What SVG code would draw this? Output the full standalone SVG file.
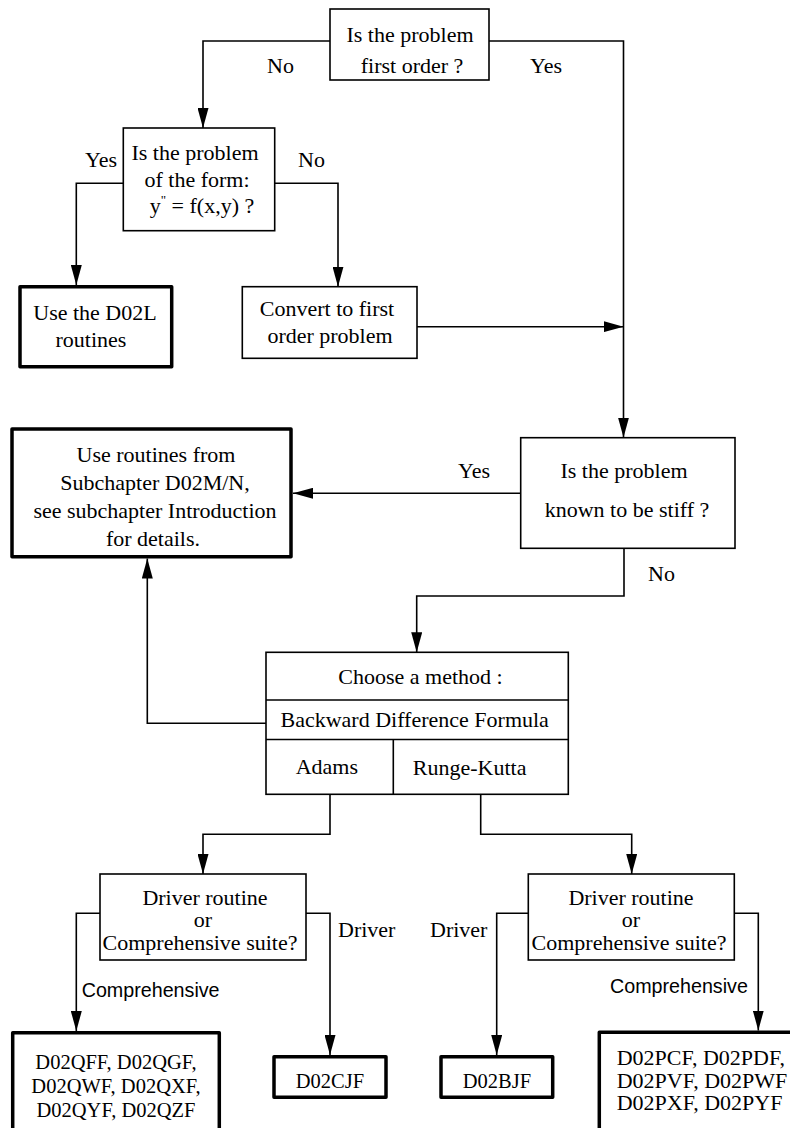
<svg xmlns="http://www.w3.org/2000/svg" width="790" height="1128" viewBox="0 0 790 1128">
<style>
text{font-family:"Liberation Serif","Times New Roman",serif;font-size:22px;fill:#000}
.c{text-anchor:middle}
.sans{font-family:"Liberation Sans",Arial,sans-serif;font-size:19.7px}
.small{font-size:20.5px}
.box{fill:#fff;stroke:#000;stroke-width:1.6}
.bold{fill:#fff;stroke:#000;stroke-width:3.5;stroke-linejoin:round}
.edge{fill:none;stroke:#000;stroke-width:1.6;marker-end:url(#ah)}
.div{fill:none;stroke:#000;stroke-width:1.6}
</style>
<defs>
<marker id="ah" markerUnits="userSpaceOnUse" markerWidth="20" markerHeight="11" refX="20" refY="5.5" orient="auto">
<path d="M0,0 L20,5.5 L0,11 z" fill="#000"/>
</marker>
</defs>
<g id="connectors">
<path class="edge" d="M330,41 H203 V128"/>
<path class="edge" d="M489,41 H623.5 V437.5"/>
<path class="edge" d="M123.3,183.3 H76.3 V285"/>
<path class="edge" d="M274.7,183.3 H338 V286.7"/>
<path class="edge" d="M417,326.7 H623.5"/>
<path class="edge" d="M520.7,493.3 H293"/>
<path class="edge" d="M624,548.3 V596 H416.7 V652.3"/>
<path class="edge" d="M266,723.3 H147.3 V558.5"/>
<path class="edge" d="M330,794.3 V834.3 H203 V874"/>
<path class="edge" d="M480.7,794.3 V834.3 H631.7 V874"/>
<path class="edge" d="M100,913.3 H76.3 V1031"/>
<path class="edge" d="M306,913.3 H330 V1055"/>
<path class="edge" d="M528.3,913.3 H496.7 V1055"/>
<path class="edge" d="M734.3,913.3 H758.3 V1030.5"/>
</g>
<g id="labels">
<text x="267" y="73">No</text>
<text x="530" y="73">Yes</text>
<text x="85" y="167">Yes</text>
<text x="298" y="167">No</text>
<text x="458" y="478">Yes</text>
<text x="648" y="581">No</text>
<text x="338" y="937">Driver</text>
<text x="430" y="937">Driver</text>
<text class="sans" x="81.7" y="996.7">Comprehensive</text>
<text class="sans" x="610" y="993.3">Comprehensive</text>
</g>
<g id="n_first_order">
<rect class="box" x="330" y="9" width="159" height="71"/>
<text class="c" x="410" y="41.5">Is the problem</text>
<text class="c" x="412" y="72.5">first order ?</text>
</g>
<g id="n_form">
<rect class="box" x="123.3" y="128" width="151.4" height="102.7"/>
<text class="c" x="195" y="160">Is the problem</text>
<text class="c" x="197" y="186.7">of the form:</text>
<text class="c" x="202" y="213">y<tspan font-size="13" dy="-9">"</tspan><tspan dy="9"> = f(x,y) ?</tspan></text>
</g>
<g id="n_d02l">
<rect class="bold" x="20" y="286.7" width="151.7" height="80"/>
<text class="c" x="95" y="320">Use the D02L</text>
<text class="c" x="91" y="346.7">routines</text>
</g>
<g id="n_convert">
<rect class="box" x="242.3" y="286.7" width="174.7" height="71.6"/>
<text class="c" x="327" y="316">Convert to first</text>
<text class="c" x="330" y="343">order problem</text>
</g>
<g id="n_stiff">
<rect class="box" x="520.7" y="437.7" width="214.3" height="110.6"/>
<text class="c" x="624" y="478.3">Is the problem</text>
<text class="c" x="627" y="516.7">known to be stiff ?</text>
</g>
<g id="n_d02mn">
<rect class="bold" x="12" y="429" width="279" height="127.7"/>
<text class="c" x="156" y="461.7">Use routines from</text>
<text class="c" x="155" y="489.7">Subchapter D02M/N,</text>
<text class="c" x="155" y="517.7">see subchapter Introduction</text>
<text class="c" x="153" y="545.7">for details.</text>
</g>
<g id="n_method">
<rect class="box" x="266" y="652.3" width="302.3" height="142"/>
<path class="div" d="M266,700 H568.3" stroke-width="2.2"/>
<path class="div" d="M266,739.5 H568.3"/>
<path class="div" d="M393.3,739.5 V794.3"/>
<text class="c" x="420.5" y="684">Choose a method :</text>
<text class="c" x="414.7" y="727.3">Backward Difference Formula</text>
<text class="c" x="326.8" y="774">Adams</text>
<text class="c" x="469.7" y="775">Runge-Kutta</text>
</g>
<g id="n_driver_left">
<rect class="box" x="100" y="874" width="206" height="86"/>
<text class="c" x="205" y="905">Driver routine</text>
<text class="c" x="203" y="927">or</text>
<text class="c" x="200" y="950">Comprehensive suite?</text>
</g>
<g id="n_driver_right">
<rect class="box" x="528.3" y="874" width="206" height="86"/>
<text class="c" x="631" y="905">Driver routine</text>
<text class="c" x="631" y="927">or</text>
<text class="c" x="629" y="950">Comprehensive suite?</text>
</g>
<g id="n_d02q">
<rect class="bold" x="12.7" y="1032.7" width="206.6" height="110"/>
<text class="c small" x="116" y="1069.3">D02QFF, D02QGF,</text>
<text class="c small" x="116" y="1093.3">D02QWF, D02QXF,</text>
<text class="c small" x="116" y="1116.7">D02QYF, D02QZF</text>
</g>
<g id="n_d02cjf">
<rect class="bold" x="274" y="1056.7" width="112" height="40.6"/>
<text class="c small" x="330" y="1088">D02CJF</text>
</g>
<g id="n_d02bjf">
<rect class="bold" x="441" y="1056.7" width="111.7" height="40.6"/>
<text class="c small" x="497" y="1088">D02BJF</text>
</g>
<g id="n_d02p">
<rect class="bold" x="599.3" y="1032.3" width="220" height="110"/>
<text x="616.7" y="1065" font-size="20">D02PCF, D02PDF,</text>
<text x="616.7" y="1087.5" font-size="20">D02PVF, D02PWF</text>
<text x="616.7" y="1110" font-size="20">D02PXF, D02PYF</text>
</g>
</svg>
